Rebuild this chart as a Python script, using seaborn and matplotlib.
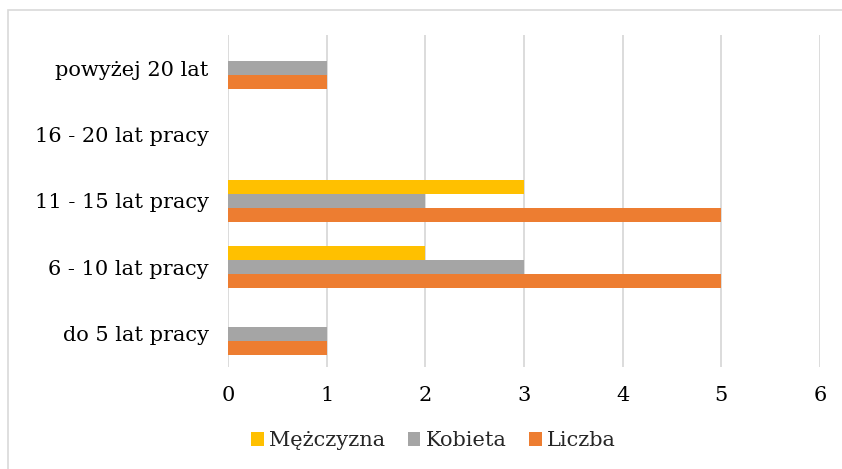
import matplotlib
matplotlib.use("Agg")
from matplotlib import pyplot as plt
from matplotlib.patches import Patch, Rectangle
import pandas as pd
import seaborn as sns

# data (top to bottom as shown)
categories = ['powyżej 20 lat', '16 - 20 lat pracy', '11 - 15 lat pracy', '6 - 10 lat pracy', 'do 5 lat pracy']
mezczyzna = [0, 0, 3, 2, 0]
kobieta = [1, 0, 2, 3, 1]
liczba = [1, 0, 5, 5, 1]
series = ['Mężczyzna', 'Kobieta', 'Liczba']
colors = ['#FFC000', '#A5A5A5', '#ED7D31']

df = pd.DataFrame({'kategoria': categories, 'Mężczyzna': mezczyzna, 'Kobieta': kobieta, 'Liczba': liczba})
long_df = df.melt(id_vars='kategoria', var_name='seria', value_name='wartosc')

sns.set_style("white")
plt.rcParams['font.family'] = ['DejaVu Serif']

fig = plt.figure(figsize=(8.42, 4.69), dpi=100)
ax = fig.add_axes([0.2708, 0.2175, 0.7031, 0.7079])

sns.barplot(data=long_df, y='kategoria', x='wartosc', hue='seria', order=categories,
            hue_order=series, palette=colors, orient='h', width=0.633, dodge=True,
            saturation=1, linewidth=0, edgecolor='none', ax=ax, legend=False)

ax.set_xlim(0, 6)
ax.set_xticks(range(0, 7))
ax.grid(True, axis='x', color='#D9D9D9', linewidth=1.3)
ax.set_axisbelow(True)
for s in ax.spines.values():
    s.set_visible(False)
ax.set_xlabel('')
ax.set_ylabel('')
ax.tick_params(axis='both', length=0, labelsize=15, colors='#000000')
ax.tick_params(axis='x', pad=14)
ax.tick_params(axis='y', pad=14)

handles = [Patch(facecolor=c, edgecolor='none', label=s) for s, c in zip(series, colors)]
fig.legend(handles=handles, loc='center', bbox_to_anchor=(0.515, 0.06), ncol=3, frameon=False,
           fontsize=15, handlelength=0.6, handleheight=0.6, handletextpad=0.25, columnspacing=1.1)

fig.patches.append(Rectangle((8 / 842, -0.05), 1.0, 1 - 10 / 469 + 0.05, transform=fig.transFigure,
                             fill=False, edgecolor='#D9D9D9', linewidth=1.2))

fig.savefig('out.png', dpi=100)
